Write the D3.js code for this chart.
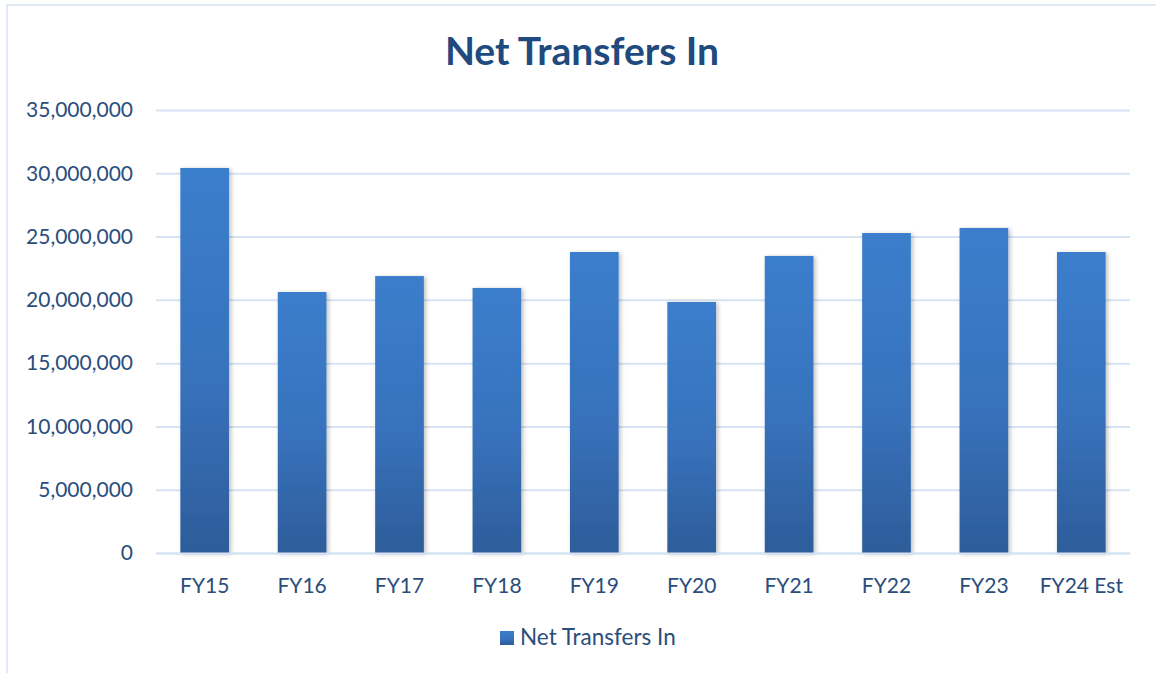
<!DOCTYPE html>
<html><head><meta charset="utf-8">
<script src="https://cdn.jsdelivr.net/npm/d3@7"></script>
<style>body{margin:0;background:#fff}svg{display:block}</style>
</head><body>
<script>
const categories = ["FY15","FY16","FY17","FY18","FY19","FY20","FY21","FY22","FY23","FY24 Est"];
const values = [30420000,20620000,21880000,20940000,23780000,19830000,23470000,25280000,25680000,23780000];
const yTicks = [0,5000000,10000000,15000000,20000000,25000000,30000000,35000000];
const seriesName = "Net Transfers In";
const title = "Net Transfers In";

const W = 1156, H = 673;
const m = {left:156, right:1130, top:110, bottom:553};
const font = "Lato, 'Open Sans', sans-serif";
const textColor = "#2A4D7C";
const gridColor = "#D5E3F3";

const svg = d3.select("body").append("svg").attr("width", W).attr("height", H);
const defs = svg.append("defs");
const grad = defs.append("linearGradient").attr("id","barGrad").attr("x1",0).attr("y1",0).attr("x2",0).attr("y2",1);
grad.append("stop").attr("offset","0%").attr("stop-color","#3B7ECC");
grad.append("stop").attr("offset","55%").attr("stop-color","#3872BC");
grad.append("stop").attr("offset","100%").attr("stop-color","#2D5D9A");
const f = defs.append("filter").attr("id","shadow").attr("x","-20%").attr("y","-5%").attr("width","150%").attr("height","115%");
f.append("feDropShadow").attr("dx",2).attr("dy",1).attr("stdDeviation",2).attr("flood-color","#000").attr("flood-opacity",0.25);

// frame
svg.append("rect").attr("x",7).attr("y",5).attr("width",1200).attr("height",800)
  .attr("fill","none").attr("stroke",gridColor).attr("stroke-width",1.5);

const x = d3.scaleBand().domain(categories).range([m.left, m.right]).paddingInner(0.5).paddingOuter(0.25);
const y = d3.scaleLinear().domain([0,35000000]).range([m.bottom, m.top]);

// grid
const yAxis = d3.axisLeft(y).tickValues(yTicks).tickFormat(d3.format(",")).tickSize(-(m.right-m.left)).tickPadding(23);
const gy = svg.append("g").attr("transform",`translate(${m.left},0)`).call(yAxis);
gy.select(".domain").remove();
gy.selectAll(".tick line").attr("stroke",gridColor).attr("stroke-width",2);
gy.selectAll(".tick text").attr("fill",textColor).style("font-family",font).style("font-size","21px");

// bars
svg.append("g").selectAll("rect").data(values).join("rect")
  .attr("x",(d,i)=>x(categories[i])).attr("width",x.bandwidth())
  .attr("y",d=>y(d)).attr("height",d=>y(0)-y(d))
  .attr("fill","url(#barGrad)").attr("filter","url(#shadow)");

// x axis
const gx = svg.append("g").attr("transform",`translate(0,${m.bottom})`).call(d3.axisBottom(x).tickSize(0).tickPadding(25));
gx.select(".domain").attr("stroke",gridColor).attr("stroke-width",2);
gx.selectAll(".tick text").attr("fill",textColor).style("font-family",font).style("font-size","21px");

// title
svg.append("text").attr("x",582).attr("y",65).attr("text-anchor","middle")
  .attr("fill","#204A7D").style("font-family",font).style("font-weight","bold").style("font-size","39px").text(title);

// legend
svg.append("rect").attr("x",500).attr("y",631).attr("width",14).attr("height",14).attr("fill","url(#barGrad)");
svg.append("text").attr("x",520).attr("y",645).attr("fill",textColor)
  .style("font-family",font).style("font-size","22.5px").text(seriesName);
</script>
</body></html>
